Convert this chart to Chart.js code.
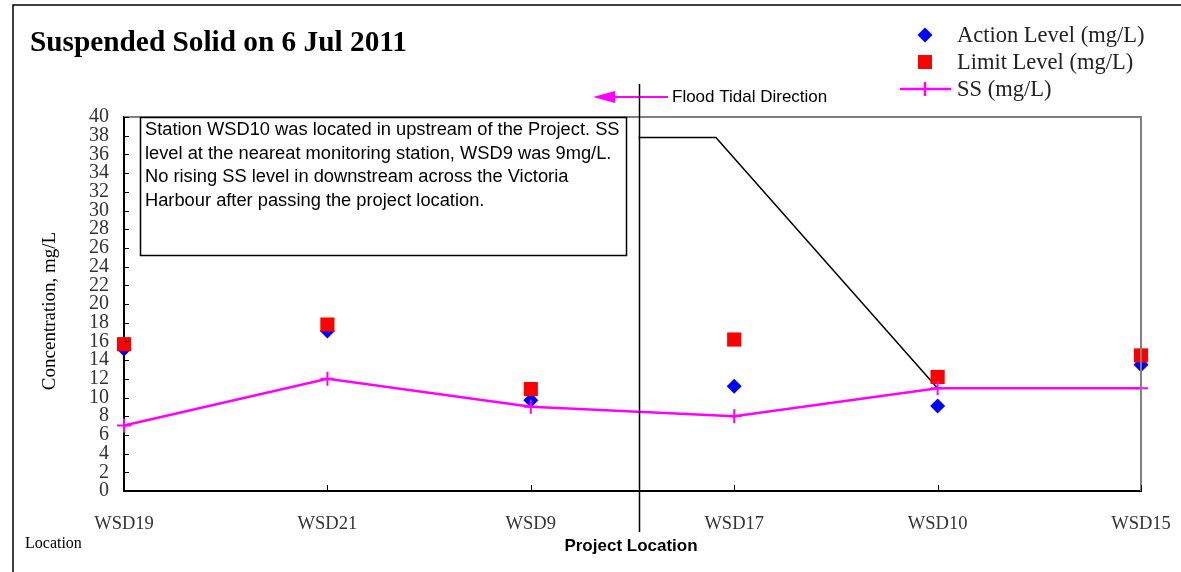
<!DOCTYPE html>
<html>
<head>
  <meta charset="UTF-8">
  <title>Suspended Solid on 6 Jul 2011</title>
  <script src="https://cdn.jsdelivr.net/npm/chart.js@4.4.1/dist/chart.umd.min.js"></script>
  <style>
    html, body { margin: 0; padding: 0; background: #fff; }
    #wrap { width: 1181px; height: 572px; }
  </style>
</head>
<body>
<div id="wrap"><canvas id="myChart" width="1181" height="572"></canvas></div>
<script>
  // station names along the x axis
  var locations = ["WSD19", "WSD21", "WSD9", "WSD17", "WSD10", "WSD15"];
  // values, mg/L
  var actionLevel = [15.2, 17.1, 9.7, 11.2, 9.1, 13.5];
  var limitLevel  = [15.7, 17.8, 10.9, 16.2, 12.2, 14.5];
  var ssValues    = [7, 12, 9, 8, 11, 11];
  // the black "project location" marker line (x in station units)
  var projectX = 2.53;
  var markerX  = [2.53, 2.91, 4];
  var markerY  = [37.8, 37.8, 11];
  var yTicks = { min: 0, max: 40, step: 2 };

  var note = [
    "Station WSD10 was located in upstream of the Project. SS",
    "level at the neareat monitoring station, WSD9 was 9mg/L.",
    "No rising SS level in downstream across the Victoria",
    "Harbour after passing the project location."
  ];

  function pts(arr) {
    return arr.map(function (v, i) { return { x: i, y: v }; });
  }

  var SERIF = "'Liberation Serif', 'Times New Roman', serif";
  var SANS = "'Liberation Sans', Arial, sans-serif";

  // everything around the plot: frame, title, legend, note, extra borders
  var decor = {
    id: "decor",
    beforeDraw: function (chart) {
      var ctx = chart.ctx;
      ctx.save();
      ctx.fillStyle = "#fff";
      ctx.fillRect(0, 0, chart.width, chart.height);
      // outer frame (only left and top show)
      ctx.strokeStyle = "#000";
      ctx.lineWidth = 1.5;
      ctx.beginPath();
      ctx.moveTo(13, chart.height);
      ctx.lineTo(13, 5);
      ctx.lineTo(chart.width, 5);
      ctx.stroke();
      ctx.restore();
    },
    afterDraw: function (chart) {
      var ctx = chart.ctx, a = chart.chartArea;
      var xs = chart.scales.x, ys = chart.scales.y;
      ctx.save();

      // gray top / right border of the plot
      ctx.strokeStyle = "#808080";
      ctx.lineWidth = 2;
      ctx.beginPath();
      ctx.moveTo(a.left, a.top);
      ctx.lineTo(a.right, a.top);
      ctx.lineTo(a.right, a.bottom);
      ctx.stroke();

      // inward tick marks
      ctx.strokeStyle = "#000";
      ctx.lineWidth = 1;
      ctx.beginPath();
      for (var v = yTicks.min; v <= yTicks.max; v += yTicks.step) {
        var py = Math.round(ys.getPixelForValue(v)) + 0.5;
        ctx.moveTo(a.left, py);
        ctx.lineTo(a.left + 5, py);
      }
      for (var i = 0; i < locations.length; i++) {
        var px = Math.round(xs.getPixelForValue(i)) + 0.5;
        ctx.moveTo(px, a.bottom);
        ctx.lineTo(px, a.bottom - 6);
      }
      ctx.stroke();

      // title
      ctx.fillStyle = "#000";
      ctx.font = "bold 29.3px " + SERIF;
      ctx.textAlign = "left";
      ctx.textBaseline = "alphabetic";
      ctx.fillText("Suspended Solid on 6 Jul 2011", 30, 51);

      // legend
      var lx = 925;
      ctx.fillStyle = "#0000ff";
      ctx.beginPath();
      ctx.moveTo(lx, 35 - 7.5);
      ctx.lineTo(lx + 7.5, 35);
      ctx.lineTo(lx, 35 + 7.5);
      ctx.lineTo(lx - 7.5, 35);
      ctx.closePath();
      ctx.fill();
      ctx.fillStyle = "#ff0000";
      ctx.fillRect(lx - 7, 62 - 7, 14, 14);
      ctx.strokeStyle = "#ff00ff";
      ctx.lineWidth = 2.5;
      ctx.beginPath();
      ctx.moveTo(900, 89);
      ctx.lineTo(951, 89);
      ctx.moveTo(lx, 82);
      ctx.lineTo(lx, 96);
      ctx.stroke();
      ctx.fillStyle = "#222";
      ctx.font = "22.5px " + SERIF;
      ctx.textBaseline = "middle";
      ctx.fillText("Action Level (mg/L)", 957, 36);
      ctx.fillText("Limit Level (mg/L)", 957, 63);
      ctx.fillText("SS (mg/L)", 957, 90);

      // flood tidal direction arrow
      ctx.strokeStyle = "#ff00ff";
      ctx.fillStyle = "#ff00ff";
      ctx.lineWidth = 2;
      ctx.beginPath();
      ctx.moveTo(668, 97);
      ctx.lineTo(610, 97);
      ctx.stroke();
      ctx.beginPath();
      ctx.moveTo(593, 97);
      ctx.lineTo(615, 91);
      ctx.lineTo(615, 103);
      ctx.closePath();
      ctx.fill();
      ctx.fillStyle = "#000";
      ctx.font = "17px " + SANS;
      ctx.fillText("Flood Tidal Direction", 672, 97);

      // project location vertical line
      var vx = Math.round(xs.getPixelForValue(projectX)) + 0.5;
      ctx.strokeStyle = "#000";
      ctx.lineWidth = 1.5;
      ctx.beginPath();
      ctx.moveTo(vx, 84);
      ctx.lineTo(vx, 532);
      ctx.stroke();

      // note box
      ctx.fillStyle = "#fff";
      ctx.fillRect(a.left + 16, a.top, 486, 138);
      ctx.strokeStyle = "#000";
      ctx.lineWidth = 1.5;
      ctx.strokeRect(a.left + 16.5, a.top + 0.5, 486, 138);
      ctx.fillStyle = "#000";
      ctx.font = "18.3px " + SANS;
      ctx.textBaseline = "middle";
      note.forEach(function (t, k) {
        ctx.fillText(t, a.left + 21, a.top + 13 + k * 23.7);
      });

      // axis titles
      ctx.save();
      ctx.translate(50, 311);
      ctx.rotate(-Math.PI / 2);
      ctx.textAlign = "center";
      ctx.font = "19px " + SERIF;
      ctx.fillStyle = "#000";
      ctx.fillText("Concentration, mg/L", 0, 0);
      ctx.restore();

      ctx.textAlign = "left";
      ctx.font = "16px " + SERIF;
      ctx.fillText("Location", 25, 544);

      ctx.textAlign = "center";
      ctx.font = "bold 17px " + SANS;
      ctx.fillText("Project Location", 631, 546);

      ctx.restore();
    }
  };

  new Chart(document.getElementById("myChart"), {
    type: "line",
    data: {
      datasets: [
        {
          label: "SS (mg/L)",
          data: pts(ssValues),
          borderColor: "#ff00ff",
          borderWidth: 2.5,
          pointStyle: "cross",
          pointRadius: 7,
          pointBorderWidth: 2,
          pointBorderColor: "#ff00ff",
          fill: false,
          clip: false,
          order: 1
        },
        {
          label: "Limit Level (mg/L)",
          data: pts(limitLevel),
          showLine: false,
          pointStyle: "rect",
          pointRadius: 10,
          pointBorderWidth: 0,
          pointBackgroundColor: "#ff0000",
          pointBorderColor: "#ff0000",
          clip: false,
          order: 2
        },
        {
          label: "Action Level (mg/L)",
          data: pts(actionLevel),
          showLine: false,
          pointStyle: "rectRot",
          pointRadius: 7.5,
          pointBorderWidth: 0,
          pointBackgroundColor: "#0000ff",
          pointBorderColor: "#0000ff",
          clip: false,
          order: 3
        },
        {
          label: "marker",
          data: markerX.map(function (x, i) { return { x: x, y: markerY[i] }; }),
          borderColor: "#000",
          borderWidth: 1.5,
          pointRadius: 0,
          fill: false,
          clip: false,
          order: 4
        }
      ]
    },
    options: {
      responsive: false,
      animation: false,
      events: [],
      layout: { padding: { top: 117, right: 40, left: 0, bottom: 0 } },
      plugins: {
        legend: { display: false },
        title: { display: false },
        tooltip: { enabled: false }
      },
      scales: {
        x: {
          type: "linear",
          min: 0,
          max: locations.length - 1,
          afterFit: function (s) {
            s.height = 81;
            s.paddingLeft = 0;
            s.paddingRight = 0;
          },
          grid: { display: false, drawTicks: false },
          border: { display: true, color: "#000", width: 2 },
          ticks: {
            stepSize: 1,
            padding: 22,
            color: "#333",
            font: { family: SERIF, size: 18.5 },
            maxRotation: 0,
            callback: function (v) { return locations[v]; }
          }
        },
        y: {
          type: "linear",
          min: yTicks.min,
          max: yTicks.max,
          afterFit: function (s) {
            s.width = 124;
            s.paddingTop = 0;
            s.paddingBottom = 0;
          },
          grid: { display: false, drawTicks: false },
          border: { display: true, color: "#000", width: 2 },
          ticks: {
            stepSize: yTicks.step,
            autoSkip: false,
            padding: 15,
            color: "#333",
            font: { family: SERIF, size: 20, lineHeight: 1 }
          }
        }
      }
    },
    plugins: [decor]
  });
</script>
</body>
</html>
